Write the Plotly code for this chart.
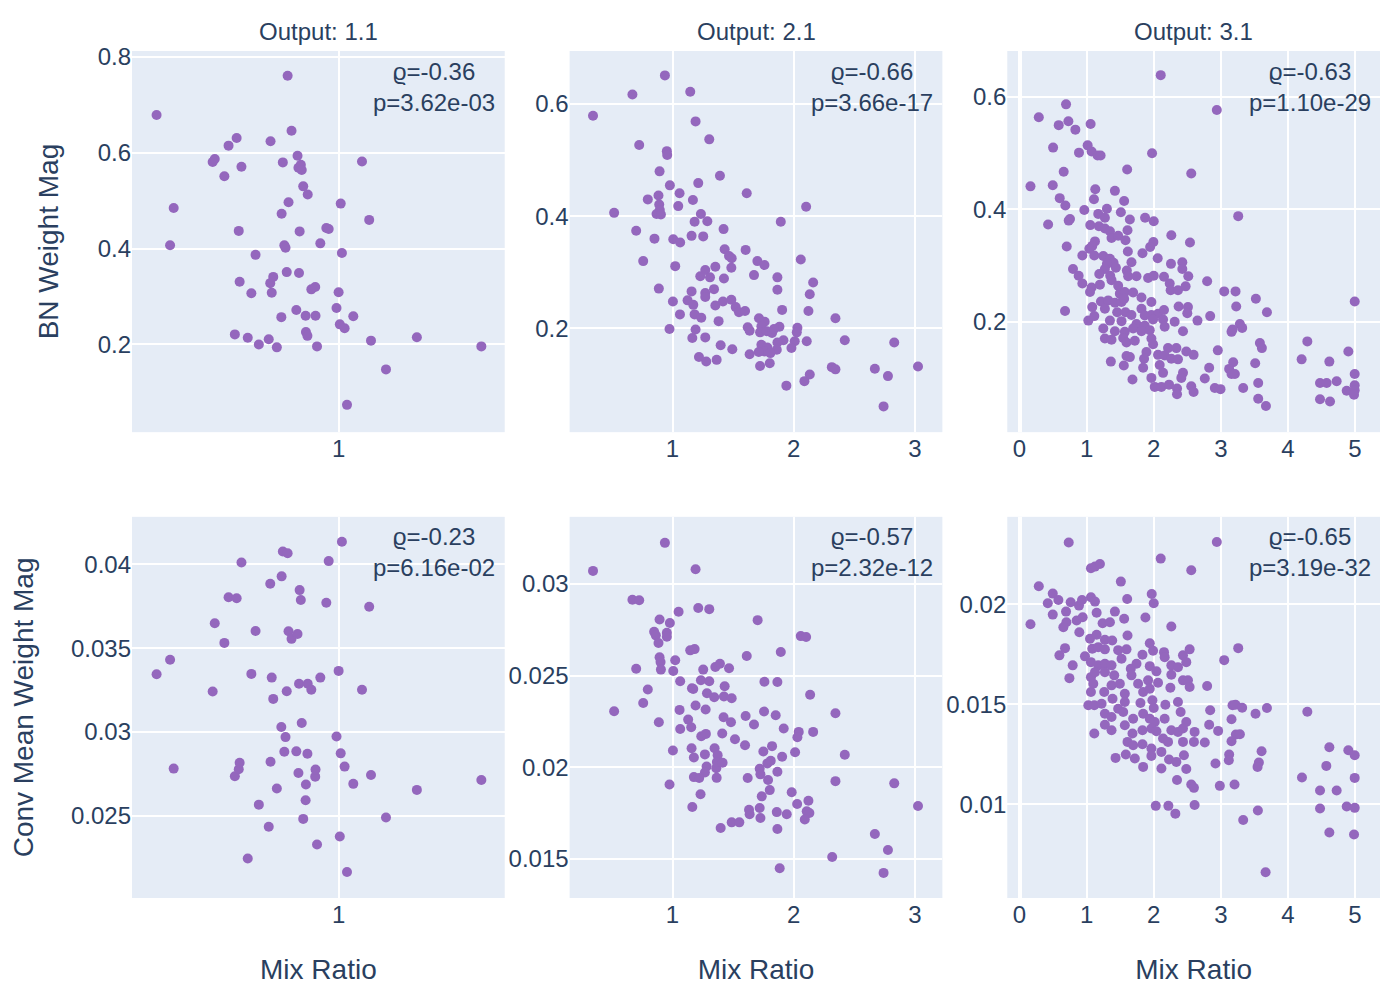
import plotly.graph_objects as go
from plotly.subplots import make_subplots

# ---- data ----
outputs = ["1.1", "2.1", "3.1"]
rho_bn = ["-0.36", "-0.66", "-0.63"]
p_bn = ["3.62e-03", "3.66e-17", "1.10e-29"]
rho_conv = ["-0.23", "-0.57", "-0.65"]
p_conv = ["6.16e-02", "2.32e-12", "3.19e-32"]

# output 1.1 (same mix ratio for both metrics)
mix_11 = [0.393, 0.438, 0.450, 0.580, 0.587, 0.619, 0.633, 0.654, 0.660, 0.667,
          0.670, 0.676, 0.697, 0.709, 0.723, 0.734, 0.767, 0.772, 0.773, 0.777,
          0.782, 0.794, 0.809, 0.810, 0.814, 0.819, 0.823, 0.827, 0.830, 0.833,
          0.843, 0.859, 0.863, 0.866, 0.868, 0.870, 0.874, 0.877, 0.882, 0.890,
          0.891, 0.896, 0.897, 0.909, 0.922, 0.923, 0.928, 0.939, 0.959, 0.967,
          0.993, 1.000, 1.004, 1.007, 1.011, 1.020, 1.028, 1.049, 1.078, 1.102,
          1.108, 1.158, 1.261, 1.476]
bn_11 = [0.679, 0.407, 0.485, 0.581, 0.587, 0.551, 0.615, 0.221, 0.631, 0.437,
         0.331, 0.571, 0.214, 0.307, 0.387, 0.200, 0.211, 0.328, 0.624, 0.308,
         0.341, 0.194, 0.257, 0.473, 0.580, 0.407, 0.402, 0.351, 0.761, 0.497,
         0.646, 0.272, 0.594, 0.569, 0.349, 0.436, 0.575, 0.564, 0.530, 0.260,
         0.226, 0.218, 0.513, 0.315, 0.320, 0.260, 0.196, 0.411, 0.443, 0.441,
         0.276, 0.309, 0.242, 0.494, 0.391, 0.234, 0.074, 0.259, 0.582, 0.460,
         0.208, 0.148, 0.215, 0.196]
conv_11 = [0.03345, 0.03431, 0.02782, 0.03242, 0.03649, 0.03532, 0.03804, 0.02736,
           0.03798, 0.02778, 0.02817, 0.04012, 0.02246, 0.03347, 0.03603, 0.02567,
           0.02435, 0.03885, 0.02823, 0.03325, 0.03198, 0.02663, 0.03030, 0.03929,
           0.04077, 0.02883, 0.02970, 0.03244, 0.04067, 0.03601, 0.03556, 0.02885,
           0.03585, 0.02756, 0.03288, 0.03847, 0.03788, 0.03054, 0.02482, 0.02593,
           0.02687, 0.02871, 0.03288, 0.03252, 0.02734, 0.02776, 0.02329, 0.03325,
           0.03772, 0.04020, 0.02974, 0.03365, 0.02377, 0.02873, 0.04135, 0.02794,
           0.02165, 0.02691, 0.03252, 0.03748, 0.02744, 0.02490, 0.02655, 0.02714]

# output 2.1
mix_21_bn = [0.937, 0.669, 1.146, 0.344, 1.190, 1.303, 0.725, 0.953, 0.956, 0.893,
             1.391, 0.978, 1.212, 1.058, 1.612, 0.884, 0.796, 1.168, 0.890, 1.047,
             2.102, 0.518, 0.895, 0.868, 0.904, 1.234, 1.182, 1.287, 1.893, 1.421,
             0.700, 1.157, 1.253, 0.851, 1.006, 1.063, 1.430, 1.603, 1.466, 1.488,
             0.758, 1.700, 1.758, 2.058, 1.022, 1.353, 1.485, 1.270, 1.229, 1.309,
             1.424, 1.672, 1.865, 2.160, 0.887, 1.342, 1.865, 1.157, 1.270, 1.270,
             2.132, 1.003, 1.124, 1.171, 1.353, 1.416, 1.485, 1.521, 1.548, 1.598,
             1.904, 2.121, 1.061, 1.182, 1.237, 1.380, 1.713, 1.760, 2.344, 1.620,
             1.636, 1.733, 1.722, 1.777, 1.821, 1.882, 1.837, 2.030, 2.025, 0.975,
             1.190, 1.270, 1.163, 1.915, 1.865, 2.008, 2.107, 2.421, 2.829, 1.397,
             1.493, 1.733, 1.782, 1.760, 1.860, 1.807, 1.981, 1.636, 1.711, 1.218,
             1.278, 1.364, 1.722, 1.802, 1.939, 2.088, 2.132, 2.314, 2.344, 2.669,
             2.777, 3.025, 2.741]
bn_21 = [0.651, 0.617, 0.622, 0.579, 0.569, 0.537, 0.527, 0.516, 0.509, 0.480,
         0.472, 0.455, 0.459, 0.441, 0.441, 0.437, 0.430, 0.429, 0.421, 0.418,
         0.417, 0.406, 0.411, 0.404, 0.403, 0.404, 0.390, 0.391, 0.390, 0.377,
         0.374, 0.365, 0.364, 0.360, 0.359, 0.353, 0.341, 0.340, 0.329, 0.325,
         0.320, 0.320, 0.313, 0.323, 0.311, 0.310, 0.308, 0.304, 0.293, 0.291,
         0.289, 0.295, 0.291, 0.282, 0.271, 0.270, 0.269, 0.266, 0.263, 0.256,
         0.261, 0.248, 0.250, 0.242, 0.241, 0.248, 0.251, 0.238, 0.229, 0.231,
         0.233, 0.231, 0.225, 0.225, 0.219, 0.213, 0.218, 0.212, 0.218, 0.202,
         0.196, 0.204, 0.193, 0.195, 0.192, 0.203, 0.199, 0.201, 0.193, 0.199,
         0.198, 0.184, 0.183, 0.179, 0.175, 0.177, 0.177, 0.179, 0.175, 0.170,
         0.163, 0.171, 0.166, 0.159, 0.162, 0.156, 0.165, 0.154, 0.158, 0.149,
         0.141, 0.144, 0.133, 0.138, 0.098, 0.106, 0.118, 0.131, 0.127, 0.128,
         0.115, 0.132, 0.061]
mix_21_conv = [0.937, 0.344, 1.190, 0.669, 0.725, 1.050, 1.212, 1.303, 0.893, 0.978,
               1.702, 0.848, 0.862, 0.953, 0.953, 0.884, 2.058, 2.102, 1.146, 1.182,
               1.893, 1.612, 0.893, 0.901, 1.022, 0.700, 0.904, 1.006, 1.353, 1.391,
               1.466, 1.253, 1.063, 1.234, 1.303, 1.758, 1.865, 1.160, 1.171, 1.430,
               0.796, 1.284, 1.344, 1.424, 1.488, 2.135, 0.758, 0.518, 1.058, 1.190,
               1.273, 1.755, 2.344, 1.603, 1.851, 1.421, 1.482, 1.672, 0.887, 1.129,
               1.154, 1.063, 1.917, 2.041, 2.030, 2.160, 1.237, 1.275, 1.410, 1.515,
               1.598, 1.821, 1.749, 2.011, 2.421, 1.003, 1.157, 1.267, 1.347, 1.372,
               1.176, 1.904, 1.281, 1.361, 1.366, 1.413, 1.782, 1.810, 1.719, 1.725,
               1.865, 1.267, 1.176, 1.220, 1.364, 1.620, 1.788, 2.344, 2.829, 0.975,
               1.231, 1.802, 1.736, 1.983, 2.121, 2.028, 1.163, 1.631, 1.719, 1.636,
               1.725, 1.860, 1.942, 2.107, 2.129, 2.091, 3.025, 1.397, 1.488, 1.551,
               1.865, 2.669, 2.777, 2.317, 1.884, 2.741]
conv_21 = [0.03225, 0.03072, 0.03081, 0.02914, 0.02912, 0.02849, 0.02869, 0.02863,
           0.02807, 0.02787, 0.02803, 0.02740, 0.02720, 0.02734, 0.02712, 0.02678,
           0.02716, 0.02711, 0.02638, 0.02645, 0.02629, 0.02607, 0.02600, 0.02574,
           0.02584, 0.02538, 0.02533, 0.02525, 0.02547, 0.02565, 0.02540, 0.02533,
           0.02469, 0.02475, 0.02469, 0.02467, 0.02465, 0.02431, 0.02427, 0.02442,
           0.02424, 0.02404, 0.02382, 0.02386, 0.02377, 0.02396, 0.02351, 0.02306,
           0.02313, 0.02337, 0.02315, 0.02304, 0.02295, 0.02280, 0.02284, 0.02273,
           0.02246, 0.02233, 0.02246, 0.02260, 0.02218, 0.02209, 0.02211, 0.02193,
           0.02164, 0.02193, 0.02169, 0.02182, 0.02184, 0.02153, 0.02120, 0.02115,
           0.02086, 0.02082, 0.02068, 0.02091, 0.02104, 0.02070, 0.02104, 0.02066,
           0.02053, 0.02057, 0.02004, 0.01995, 0.02028, 0.02024, 0.02021, 0.02035,
           0.01991, 0.01961, 0.01975, 0.01971, 0.01946, 0.01941, 0.01942, 0.01941,
           0.01930, 0.01924, 0.01912, 0.01906, 0.01852, 0.01875, 0.01841, 0.01863,
           0.01817, 0.01799, 0.01783, 0.01768, 0.01777, 0.01743, 0.01723, 0.01755,
           0.01743, 0.01759, 0.01750, 0.01715, 0.01788, 0.01668, 0.01699, 0.01699,
           0.01663, 0.01635, 0.01548, 0.01510, 0.01448, 0.01423]

# output 3.1
mix_31_bn = [2.104, 0.693, 0.287, 0.584, 0.728, 0.832, 1.059, 0.500, 1.015, 0.886,
             1.074, 1.163, 1.208, 1.975, 0.658, 1.604, 2.559, 0.163, 0.495, 1.129,
             1.421, 0.599, 1.109, 1.559, 0.683, 0.965, 1.302, 1.510, 1.173, 1.272,
             0.752, 0.733, 1.644, 1.871, 2.000, 0.426, 1.054, 1.183, 1.272, 1.347,
             1.609, 1.371, 1.470, 1.579, 2.262, 2.540, 1.124, 1.084, 1.040, 0.703,
             1.995, 1.946, 1.832, 1.614, 0.936, 1.114, 1.248, 1.347, 1.401, 1.302,
             1.668, 2.059, 2.257, 2.426, 0.797, 1.272, 1.436, 1.599, 1.619, 1.743,
             1.916, 2.000, 2.153, 0.881, 1.188, 1.351, 2.426, 2.515, 0.936, 1.074,
             1.198, 1.371, 1.470, 2.238, 2.252, 2.361, 2.475, 1.050, 1.495, 1.569,
             1.693, 1.817, 1.213, 1.322, 1.421, 1.520, 1.965, 1.559, 1.084, 1.272,
             1.455, 1.579, 1.668, 1.817, 1.866, 1.965, 2.064, 2.153, 2.371, 2.510,
             0.678, 1.025, 1.114, 1.347, 1.520, 1.743, 1.866, 1.990, 2.139, 2.163,
             2.312, 2.500, 1.248, 1.421, 1.569, 1.693, 1.817, 1.941, 2.436, 1.272,
             1.371, 1.545, 1.594, 1.718, 1.965, 1.990, 2.213, 2.337, 2.485, 2.594,
             1.891, 1.594, 1.644, 1.856, 2.064, 2.163, 2.262, 2.361, 1.361, 1.554,
             1.842, 2.089, 2.139, 2.436, 2.411, 1.683, 1.965, 2.015, 2.114, 2.228,
             2.347, 2.347, 2.559, 2.594,
             2.940, 3.259, 2.796, 3.050, 3.219, 3.229, 3.522, 3.687, 2.841, 2.652,
             3.284, 3.318, 3.159, 3.174, 3.582, 3.612, 2.955, 3.184, 3.512, 2.826,
             3.124, 3.159, 3.209, 2.761, 3.557, 2.910, 2.995, 3.333, 3.557, 3.672,
             4.289, 4.204, 4.617, 4.900, 4.995, 4.995, 4.478, 4.577, 4.726, 4.876,
             4.995, 4.995, 4.985, 4.478, 4.627]
bn_31 = [0.639, 0.587, 0.564, 0.550, 0.557, 0.542, 0.552, 0.510, 0.514, 0.501,
         0.503, 0.496, 0.496, 0.500, 0.467, 0.471, 0.464, 0.441, 0.443, 0.436,
         0.433, 0.420, 0.418, 0.415, 0.407, 0.399, 0.401, 0.395, 0.392, 0.385,
         0.383, 0.380, 0.382, 0.385, 0.379, 0.373, 0.372, 0.370, 0.366, 0.361,
         0.363, 0.349, 0.353, 0.345, 0.354, 0.341, 0.343, 0.335, 0.330, 0.334,
         0.342, 0.333, 0.322, 0.325, 0.318, 0.318, 0.317, 0.312, 0.305, 0.303,
         0.306, 0.313, 0.303, 0.306, 0.294, 0.294, 0.296, 0.291, 0.281, 0.281,
         0.278, 0.282, 0.280, 0.282, 0.285, 0.282, 0.294, 0.281, 0.268, 0.261,
         0.266, 0.274, 0.264, 0.268, 0.256, 0.256, 0.263, 0.253, 0.250, 0.253,
         0.252, 0.243, 0.236, 0.238, 0.234, 0.235, 0.235, 0.241, 0.226, 0.223,
         0.217, 0.217, 0.212, 0.223, 0.211, 0.212, 0.214, 0.221, 0.227, 0.226,
         0.219, 0.202, 0.210, 0.202, 0.201, 0.196, 0.193, 0.204, 0.204, 0.191,
         0.200, 0.215, 0.188, 0.183, 0.182, 0.188, 0.183, 0.185, 0.183, 0.170,
         0.168, 0.171, 0.163, 0.166, 0.170, 0.160, 0.153, 0.153, 0.147, 0.141,
         0.146, 0.139, 0.137, 0.134, 0.141, 0.140, 0.134, 0.133, 0.129, 0.122,
         0.118, 0.123, 0.109, 0.109, 0.100, 0.097, 0.100, 0.084, 0.084, 0.088,
         0.081, 0.071, 0.085, 0.075,
         0.577, 0.388, 0.272, 0.254, 0.254, 0.227, 0.241, 0.217, 0.210, 0.202,
         0.196, 0.189, 0.182, 0.186, 0.162, 0.153, 0.149, 0.128, 0.126, 0.118,
         0.116, 0.107, 0.107, 0.099, 0.091, 0.082, 0.080, 0.082, 0.063, 0.050,
         0.165, 0.133, 0.129, 0.147, 0.236, 0.107, 0.091, 0.091, 0.094, 0.077,
         0.087, 0.078, 0.070, 0.062, 0.058]
mix_31_conv = [0.733, 1.064, 1.124, 1.198, 2.104, 2.559, 0.287, 1.510, 0.495, 0.579,
               0.421, 0.762, 0.886, 0.931, 1.064, 1.124, 1.604, 1.970, 2.000, 0.495,
               0.693, 1.149, 1.421, 0.698, 0.653, 0.851, 0.941, 0.891, 1.238, 1.347,
               1.559, 1.876, 2.262, 0.163, 1.050, 1.149, 1.272, 1.381, 1.609, 0.678,
               0.594, 0.975, 1.084, 1.173, 1.272, 1.470, 1.594, 1.832, 1.941, 1.990,
               2.153, 2.163, 2.436, 2.535, 2.485, 0.792, 1.064, 1.173, 1.272, 1.371,
               1.520, 1.743, 1.658, 1.941, 2.040, 2.262, 2.361, 0.743, 1.064, 1.124,
               1.272, 1.411, 1.668, 1.767, 1.916, 2.064, 2.262, 2.436, 2.510, 2.535,
               1.064, 1.099, 1.262, 1.371, 1.495, 1.569, 1.842, 1.941, 2.248, 1.386,
               1.569, 1.025, 1.114, 1.223, 1.470, 1.545, 1.802, 1.980, 2.000, 2.173,
               2.361, 2.401, 1.272, 1.371, 1.693, 1.842, 1.941, 2.015, 2.163, 2.485,
               1.272, 1.371, 1.569, 1.832, 1.965, 2.040, 2.262, 2.361, 2.436, 2.609,
               1.114, 1.683, 1.609, 1.693, 1.832, 1.965, 2.139, 2.213, 2.436, 2.599,
               1.431, 1.584, 1.718, 1.842, 1.965, 2.114, 2.228, 2.337, 2.450, 2.114,
               2.485, 2.347, 2.559, 2.599, 2.030, 2.218, 2.322, 2.609,
               2.940, 3.259, 3.050, 2.796, 2.841, 3.174, 3.219, 3.318, 3.517, 3.687,
               3.159, 2.826, 2.960, 3.224, 3.284, 3.159, 2.761, 3.607, 3.124, 3.119,
               2.920, 3.567, 3.547, 2.985, 3.204, 3.552, 3.333, 3.667,
               4.289, 4.617, 4.900, 4.995, 4.572, 4.209, 4.995, 4.478, 4.726, 4.478,
               4.876, 4.995, 4.617, 4.985]
conv_31 = [0.02310, 0.02181, 0.02189, 0.02202, 0.02229, 0.02171, 0.02091, 0.02114,
           0.02054, 0.02022, 0.02006, 0.02011, 0.01994, 0.02022, 0.02036, 0.02014,
           0.02027, 0.02052, 0.02006, 0.01949, 0.01964, 0.01958, 0.01964, 0.01911,
           0.01886, 0.01919, 0.01936, 0.01861, 0.01906, 0.01911, 0.01928, 0.01934,
           0.01889, 0.01901, 0.01828, 0.01848, 0.01823, 0.01819, 0.01844, 0.01781,
           0.01745, 0.01740, 0.01778, 0.01786, 0.01775, 0.01771, 0.01775, 0.01748,
           0.01806, 0.01768, 0.01761, 0.01736, 0.01745, 0.01775, 0.01711, 0.01695,
           0.01711, 0.01695, 0.01703, 0.01695, 0.01728, 0.01703, 0.01678, 0.01691,
           0.01665, 0.01695, 0.01686, 0.01631, 0.01636, 0.01661, 0.01661, 0.01645,
           0.01645, 0.01603, 0.01620, 0.01608, 0.01648, 0.01620, 0.01620, 0.01587,
           0.01562, 0.01603, 0.01562, 0.01595, 0.01603, 0.01553, 0.01562, 0.01578,
           0.01583, 0.01528, 0.01512, 0.01495, 0.01495, 0.01503, 0.01478, 0.01462,
           0.01507, 0.01520, 0.01482, 0.01498, 0.01512, 0.01462, 0.01453, 0.01437,
           0.01428, 0.01453, 0.01428, 0.01412, 0.01428, 0.01412, 0.01398, 0.01370,
           0.01395, 0.01370, 0.01379, 0.01365, 0.01370, 0.01362, 0.01379, 0.01362,
           0.01354, 0.01354, 0.01312, 0.01295, 0.01300, 0.01279, 0.01329, 0.01312,
           0.01312, 0.01312, 0.01232, 0.01249, 0.01229, 0.01187, 0.01242, 0.01262,
           0.01224, 0.01212, 0.01245, 0.01179, 0.01176, 0.01121, 0.01099, 0.01082,
           0.00992, 0.00992, 0.00953, 0.00996,
           0.02312, 0.01781, 0.01721, 0.01592, 0.01470, 0.01495, 0.01498, 0.01483,
           0.01453, 0.01482, 0.01425, 0.01398, 0.01367, 0.01349, 0.01350, 0.01315,
           0.01309, 0.01265, 0.01249, 0.01220, 0.01204, 0.01209, 0.01187, 0.01092,
           0.01099, 0.00969, 0.00921, 0.00660,
           0.01463, 0.01285, 0.01270, 0.01245, 0.01192, 0.01134, 0.01132, 0.01069,
           0.01069, 0.00979, 0.00989, 0.00982, 0.00859, 0.00849]

bn_x = [mix_11, mix_21_bn, mix_31_bn]
bn_y = [bn_11, bn_21, bn_31]
conv_x = [mix_11, mix_21_conv, mix_31_conv]
conv_y = [conv_11, conv_21, conv_31]

FONT = "Liberation Sans, Arial, sans-serif"
DOT = "#9467bd"

fig = make_subplots(
    rows=2, cols=3,
    horizontal_spacing=0.052,
    vertical_spacing=0.1,
    subplot_titles=[f"Output: {o}" for o in outputs],
)

for c in range(3):
    fig.add_trace(go.Scatter(x=bn_x[c], y=bn_y[c], mode="markers",
                             marker=dict(color=DOT, size=10),
                             showlegend=False), row=1, col=c + 1)
    fig.add_trace(go.Scatter(x=conv_x[c], y=conv_y[c], mode="markers",
                             marker=dict(color=DOT, size=10),
                             showlegend=False), row=2, col=c + 1)

# subplot titles a touch higher
for a in fig.layout.annotations:
    a.font.size = 24
    a.yshift = 4

for c in range(3):
    # correlation labels in the top right corner of each panel
    for r, rho, p in [(1, rho_bn[c], p_bn[c]), (2, rho_conv[c], p_conv[c])]:
        n = (r - 1) * 3 + c + 1
        sfx = "" if n == 1 else str(n)
        fig.add_annotation(
            text=f"ϱ={rho}<br>p={p}",
            xref=f"x{sfx} domain", yref=f"y{sfx} domain",
            x=0.98, y=0.988, xanchor="right", yanchor="top",
            showarrow=False, font=dict(size=24, color="#2a3f5f"),
        )

# axis ranges / ticks
x_ranges = [[0.311, 1.554], [0.151, 3.226], [-0.183, 5.372]]
bn_ranges = [[0.017, 0.8125], [0.0151, 0.6945], [0.0034, 0.682]]
conv_ranges = [[0.0201, 0.04284], [0.01286, 0.03367], [0.00531, 0.02438]]

for c in range(3):
    for r in (1, 2):
        if c == 0:
            fig.update_xaxes(range=x_ranges[c], tickvals=[1], row=r, col=c + 1)
        else:
            fig.update_xaxes(range=x_ranges[c], dtick=1, row=r, col=c + 1)
    fig.update_yaxes(range=bn_ranges[c], dtick=0.2, row=1, col=c + 1)
    fig.update_yaxes(range=conv_ranges[c], dtick=0.005, row=2, col=c + 1)
    fig.update_xaxes(title_text="Mix Ratio", title_font=dict(size=28),
                     title_standoff=32, row=2, col=c + 1)

fig.update_yaxes(title_text="BN Weight Mag", title_font=dict(size=28),
                 title_standoff=30, row=1, col=1)
fig.update_yaxes(title_text="Conv Mean Weight Mag", title_font=dict(size=28),
                 title_standoff=30, row=2, col=1)

fig.update_xaxes(gridwidth=2, zerolinewidth=4, tickfont=dict(size=24))
fig.update_yaxes(gridwidth=2, zerolinewidth=4, tickfont=dict(size=24))
fig.update_annotations(font_family=FONT)

fig.update_layout(
    template="plotly",
    width=1400, height=1000,
    margin=dict(l=124, r=28, t=43, b=110),
    font=dict(family=FONT, size=24, color="#2a3f5f"),
    showlegend=False,
)

fig.write_html("out.html")
